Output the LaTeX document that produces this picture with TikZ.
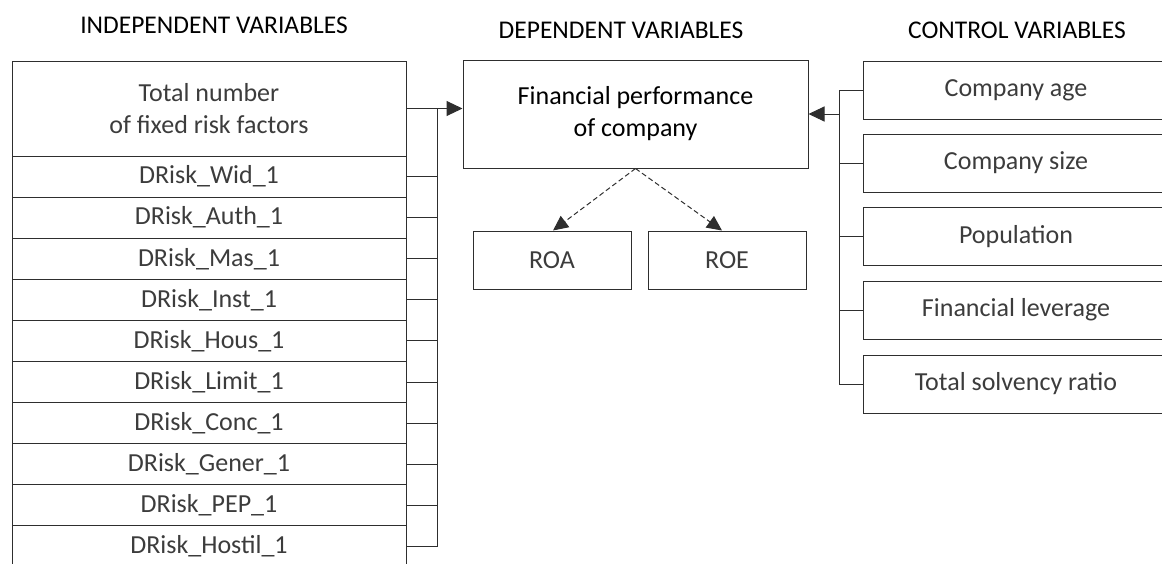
\documentclass[tikz,border=0pt]{standalone}
\usepackage{fontspec}
\setmainfont{Carlito}
\usetikzlibrary{arrows.meta}
\definecolor{txt}{HTML}{3C3C3C}
\definecolor{ln}{HTML}{2E2E2E}
\begin{document}
\begin{tikzpicture}[x=1pt,y=-1pt,
  box/.style={draw=ln, line width=1pt, inner sep=0pt, text=txt, align=center,
    font=\fontsize{26}{32}\selectfont},
  hdr/.style={font=\fontsize{25.5}{28}\selectfont, text=black},
  conn/.style={draw=ln, line width=1pt},
  arr/.style={conn, -{Triangle[length=16pt,width=15pt]}},
  darr/.style={conn, dash pattern=on 5pt off 3pt, -{Triangle[length=15pt,width=14pt]}}
]
\useasboundingbox (0,0) rectangle (1162,563);
\clip (0,0) rectangle (1162,563);
% headers
\node[hdr] (h1) at (214,25) {INDEPENDENT VARIABLES};
\node[hdr] (h2) at (621,30) {DEPENDENT VARIABLES};
\node[hdr] (h3) at (1017,30) {CONTROL VARIABLES};
% left column
\node[box, minimum width=394pt, minimum height=95pt] (t) at (209,108.5) {Total number\\of fixed risk factors};
\foreach \i/\s in {1/DRisk\_Wid\_1,2/DRisk\_Auth\_1,3/DRisk\_Mas\_1,4/DRisk\_Inst\_1,5/DRisk\_Hous\_1,6/DRisk\_Limit\_1,7/DRisk\_Conc\_1,8/DRisk\_Gener\_1,9/DRisk\_PEP\_1,10/DRisk\_Hostil\_1}{
  \node[box, minimum width=394pt, minimum height=41.1pt] (r\i) at (209,{176.55+41.1*(\i-1)}) {\s};
}
% dependent
\node[box, text=black, minimum width=345pt, minimum height=108pt] (fin) at (635.5,114) {Financial performance\\of company};
\node[box, minimum width=158pt, minimum height=58pt] (roa) at (552,260) {ROA};
\node[box, minimum width=158pt, minimum height=58pt] (roe) at (727,260) {ROE};
% control
\node[box, minimum width=306pt, minimum height=58pt] (c1) at (1016,90) {Company age};
\node[box, minimum width=306pt, minimum height=58pt] (c2) at (1016,163) {Company size};
\node[box, minimum width=306pt, minimum height=58pt] (c3) at (1016,236.5) {Population};
\node[box, minimum width=306pt, minimum height=58pt] (c4) at (1016,310) {Financial leverage};
\node[box, minimum width=306pt, minimum height=58pt] (c5) at (1016,384) {Total solvency ratio};
% left bus
\coordinate (lb) at (437,0);
\draw[conn] (t.east) -- (t.east -| lb) |- (r10.east);
\foreach \i in {1,...,9}{ \draw[conn] (r\i.east) -- (r\i.east -| lb); }
\draw[arr] (t.east -| lb) -- (t.east -| fin.west);
% right bus
\coordinate (rb) at (839,0);
\draw[conn] (c1.west) -- (c1.west -| rb) |- (c5.west);
\foreach \i in {2,3,4}{ \draw[conn] (c\i.west) -- (c\i.west -| rb); }
\draw[arr] (fin.east -| rb) -- (fin.east);
% dashed
\draw[darr] (fin.south) -- ([xshift=1pt]roa.north);
\draw[darr] (fin.south) -- ([xshift=-5pt]roe.north);
\end{tikzpicture}
\end{document}
